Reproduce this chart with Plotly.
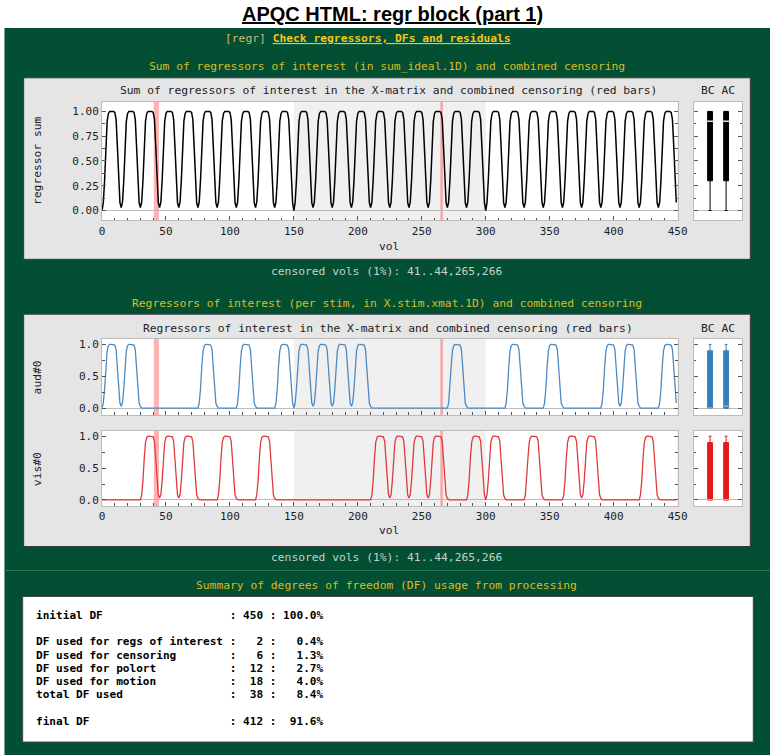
import numpy as np
import plotly.graph_objects as go

# ---------------- data ----------------
n_vols = 450
run_len = 150
block_onsets = [0, 15, 30, 45, 60, 75, 90, 105, 120, 135, 150, 165, 180, 195, 210,
                225, 240, 255, 270, 285, 300, 315, 330, 345, 360, 375, 390, 405, 420, 435]
block_cond = ['aud', 'aud', 'vis', 'vis', 'vis', 'aud', 'vis', 'aud', 'vis', 'aud',
              'aud', 'aud', 'aud', 'aud', 'vis', 'vis', 'vis', 'vis', 'aud', 'vis',
              'vis', 'aud', 'vis', 'aud', 'vis', 'vis', 'aud', 'aud', 'vis', 'aud']
# response of one block (value per volume after onset)
block_profile = [0.0, 0.08, 0.30, 0.65, 0.90, 0.98, 1.0, 1.0, 1.0, 1.0,
                 0.99, 0.92, 0.65, 0.30, 0.08, 0.03, 0.005]
censored_vols = [41, 42, 43, 44, 265, 266]
run_bounds = [0, 150, 300, 450]

df_labels = ["initial DF", None, "DF used for regs of interest", "DF used for censoring",
             "DF used for polort", "DF used for motion", "total DF used", None, "final DF"]
df_counts = [450, None, 2, 6, 12, 18, 38, None, 412]
df_pcts = [100.0, None, 0.4, 1.3, 2.7, 4.0, 8.4, None, 91.6]

# ---------------- build series ----------------
vols = np.arange(n_vols)
series = {'aud': np.zeros(n_vols), 'vis': np.zeros(n_vols)}
for on, c in zip(block_onsets, block_cond):
    for j, v in enumerate(block_profile):
        t = on + j
        if t < n_vols and t // run_len == on // run_len:
            series[c][t] += v
reg_sum = series['aud'] + series['vis']
keep = np.setdiff1d(vols, censored_vols)

def stats(y):
    return dict(q1=float(np.percentile(y, 25)), med=float(np.median(y)),
                q3=float(np.percentile(y, 75)), lo=float(y.min()), hi=float(y.max()))

# ---------------- geometry helpers ----------------
W, H = 780, 756
def fx(p): return p / W
def fy(p): return 1 - p / H

MONO = "DejaVu Sans Mono"
main_x = [fx(100.7), fx(686)]
box_x = [fx(702.7), fx(751.7)]
dom_sum = [fy(220), fy(101)]
dom_aud = [fy(415), fy(339)]
dom_vis = [fy(506.3), fy(430.7)]

fig = go.Figure()

# time series
fig.add_trace(go.Scatter(x=vols, y=reg_sum, mode='lines', line=dict(color='black', width=1.5),
                         xaxis='x', yaxis='y', hoverinfo='skip', showlegend=False))
fig.add_trace(go.Scatter(x=vols, y=series['aud'], mode='lines', line=dict(color='#4d8ac2', width=1.3),
                         xaxis='x3', yaxis='y3', hoverinfo='skip', showlegend=False))
fig.add_trace(go.Scatter(x=vols, y=series['vis'], mode='lines', line=dict(color='#e03a3c', width=1.3),
                         xaxis='x5', yaxis='y5', hoverinfo='skip', showlegend=False))

# boxplots BC / AC
def add_box(y, xa, ya, color, medcolor):
    sb, sa = stats(y), stats(y[keep])
    fig.add_trace(go.Box(x=[0, 1], q1=[sb['q1'], sa['q1']], median=[sb['med'], sa['med']],
                         q3=[sb['q3'], sa['q3']], lowerfence=[sb['lo'], sa['lo']],
                         upperfence=[sb['hi'], sa['hi']], width=0.3, whiskerwidth=0.6,
                         fillcolor=color, line=dict(color=color, width=1),
                         xaxis=xa, yaxis=ya, hoverinfo='skip', showlegend=False))
    fig.add_trace(go.Scatter(x=[0, 1], y=[sb['med'], sa['med']], mode='markers',
                             marker=dict(symbol='line-ew', size=5,
                                         line=dict(color=medcolor, width=1.5)),
                             xaxis=xa, yaxis=ya, hoverinfo='skip', showlegend=False))

add_box(reg_sum, 'x2', 'y2', 'black', '#dddddd')
add_box(series['aud'], 'x4', 'y4', '#377eb8', '#9aaabb')
add_box(series['vis'], 'x6', 'y6', '#e41a1c', '#ee9999')

# ---------------- shapes ----------------
shapes = []
shapes.append(dict(type='rect', xref='paper', yref='paper', x0=fx(1.5), x1=fx(780), y0=fy(756), y1=fy(27),
                   fillcolor='#024f33', line=dict(width=0), layer='below'))
shapes.append(dict(type='line', xref='paper', yref='paper', x0=fx(1.5), x1=fx(780), y0=fy(571), y1=fy(571),
                   line=dict(color='#2c7453', width=1), layer='below'))
for (y0, y1) in [(77, 259), (314, 547)]:
    shapes.append(dict(type='rect', xref='paper', yref='paper', x0=fx(21), x1=fx(760), y0=fy(y1), y1=fy(y0),
                       fillcolor='#e5e5e5', line=dict(color='#3a3a3a', width=1), layer='below'))
shapes.append(dict(type='rect', xref='paper', yref='paper', x0=fx(20), x1=fx(763), y0=fy(743), y1=fy(597),
                   fillcolor='white', line=dict(color='#444444', width=1), layer='below'))
for xd in (main_x, box_x):
    for yd in (dom_sum, dom_aud, dom_vis):
        shapes.append(dict(type='rect', xref='paper', yref='paper', x0=xd[0], x1=xd[1], y0=yd[0], y1=yd[1],
                           fillcolor='white', line=dict(width=0), layer='below'))

# run shading (every second run) and censor bars
groups = []
for v in censored_vols:
    if groups and v == groups[-1][1] + 1:
        groups[-1][1] = v
    else:
        groups.append([v, v])
for xa, ya in [('x', 'y'), ('x3', 'y3'), ('x5', 'y5')]:
    for r in range(len(run_bounds) - 1):
        if r % 2 == 1:
            shapes.append(dict(type='rect', xref=xa, yref=ya + ' domain', x0=run_bounds[r], x1=run_bounds[r + 1],
                               y0=0, y1=1, fillcolor='#f0f0f0', line=dict(width=0), layer='below'))
    for g0, g1 in groups:
        shapes.append(dict(type='rect', xref=xa, yref=ya + ' domain', x0=g0 - 0.5, x1=g1 + 0.5,
                           y0=0, y1=1, fillcolor='rgba(255,0,0,0.3)', line=dict(width=0), layer='below'))

# ---------------- annotations ----------------
ann = []
def text(x, y, s, size=11.3, color='#222222', family=MONO, xanchor='center', angle=0):
    ann.append(dict(xref='paper', yref='paper', x=fx(x), y=fy(y), text=s, showarrow=False,
                    xanchor=xanchor, yanchor='middle', textangle=angle,
                    font=dict(family=family, size=size, color=color)))

text(396, 13, "<b><u>APQC HTML: regr block (part 1)</u></b>", size=20, color='black',
     family="Liberation Sans, Arial")
text(224, 38, '<span style="color:#c9bb7a">[regr]</span> '
              '<span style="color:#f5c518"><b><u>Check regressors, DFs and residuals</u></b></span>',
     xanchor='left')
text(390, 66, "Sum of regressors of interest (in sum_ideal.1D) and combined censoring", color='#dcbc1e')
cens_txt = "censored vols (1%): 41..44,265,266"
text(390, 271, cens_txt, color='#c6d2ca')
text(390, 303.5, "Regressors of interest (per stim, in X.stim.xmat.1D) and combined censoring", color='#dcbc1e')
text(390, 558, cens_txt, color='#c6d2ca')
text(390, 586, "Summary of degrees of freedom (DF) usage from processing", color='#dcbc1e')

text(392, 90, "Sum of regressors of interest in the X-matrix and combined censoring (red bars)")
text(727, 90, "BC AC")
text(392, 328, "Regressors of interest in the X-matrix and combined censoring (red bars)")
text(727, 328, "BC AC")
text(393, 246, "vol")
text(393, 531, "vol")
text(35, 160, "regressor sum", angle=-90)
text(35, 377, "aud#0", angle=-90)
text(35, 469, "vis#0", angle=-90)

for i, (lab, cnt, pct) in enumerate(zip(df_labels, df_counts, df_pcts)):
    if lab is None:
        continue
    s = f"{lab:<28} : {cnt:>3} : {pct:>5.1f}%"
    ann.append(dict(xref='paper', yref='paper', x=fx(31.7), y=fy(616 + i * 13.25),
                    text="<b>" + s.replace(' ', '\u00a0') + "</b>", showarrow=False,
                    xanchor='left', yanchor='middle',
                    font=dict(family=MONO, size=11.1, color='black')))

# ---------------- axes ----------------
TF = dict(family=MONO, size=11, color='#222222')
def xaxis(domain, anchor, labels, rng=(0, 450), ticks=True):
    d = dict(domain=domain, anchor=anchor, range=list(rng), showgrid=False, zeroline=False,
             showline=True, linecolor='#bbbbbb', linewidth=1, mirror=True, fixedrange=True)
    if ticks:
        d.update(ticks='inside', ticklen=4, tickcolor='#555555', tick0=0, dtick=50,
                 showticklabels=labels, tickfont=TF,
                 minor=dict(ticks='inside', dtick=10, tick0=0, ticklen=2.5, tickcolor='#555555', showgrid=False))
    else:
        d.update(ticks='', showticklabels=False)
    return d

def yaxis(domain, anchor, rng, dtick, fmt, labels):
    return dict(domain=domain, anchor=anchor, range=list(rng), showgrid=False,
                zeroline=True, zerolinecolor='#bbbbbb', zerolinewidth=1,
                showline=True, linecolor='#bbbbbb', linewidth=1, mirror='ticks',
                ticks='inside', ticklen=4, tickcolor='#555555', tick0=0, dtick=dtick,
                tickformat=fmt, showticklabels=labels, tickfont=TF, fixedrange=True,
                minor=dict(ticks='inside', dtick=dtick / 2, tick0=0, ticklen=2.5,
                           tickcolor='#555555', showgrid=False))

r_sum = (-0.1, 1.098)
r_aud = (-0.105, 1.083)
r_vis = (-0.094, 1.088)
fig.update_layout(
    width=W, height=H, autosize=False, margin=dict(l=0, r=0, t=0, b=0),
    paper_bgcolor='white', plot_bgcolor='white', showlegend=False,
    xaxis=xaxis(main_x, 'y', True), yaxis=yaxis(dom_sum, 'x', r_sum, 0.25, '.2f', True),
    xaxis2=xaxis(box_x, 'y2', False, (-1, 2), False), yaxis2=yaxis(dom_sum, 'x2', r_sum, 0.25, '.2f', False),
    xaxis3=xaxis(main_x, 'y3', False), yaxis3=yaxis(dom_aud, 'x3', r_aud, 0.5, '.1f', True),
    xaxis4=xaxis(box_x, 'y4', False, (-1, 2), False), yaxis4=yaxis(dom_aud, 'x4', r_aud, 0.5, '.1f', False),
    xaxis5=xaxis(main_x, 'y5', True), yaxis5=yaxis(dom_vis, 'x5', r_vis, 0.5, '.1f', True),
    xaxis6=xaxis(box_x, 'y6', False, (-1, 2), False), yaxis6=yaxis(dom_vis, 'x6', r_vis, 0.5, '.1f', False),
    shapes=shapes, annotations=ann,
)

fig.write_html("out.html", config={'displayModeBar': False},
               post_script="document.body.style.margin='0px';document.body.style.overflow='hidden';")
